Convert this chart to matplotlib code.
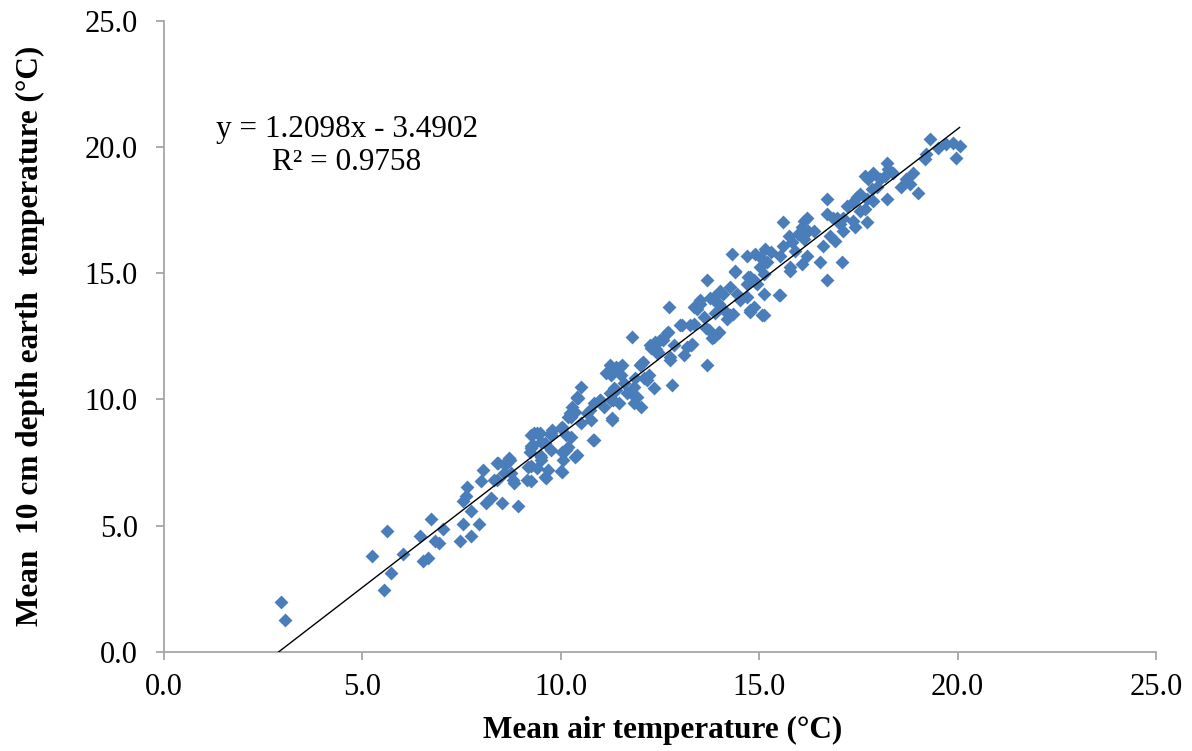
"""
Mean 10 cm depth earth temperature against mean air temperature, with linear fit.
"""

import matplotlib
matplotlib.use("Agg")
import matplotlib.pyplot as plt
import numpy as np

# points (air temp, earth temp), degrees C
air_temp = [
    2.95, 3.05, 5.24, 5.63, 5.54, 5.73, 6.02, 6.44, 6.73, 6.52, 6.65, 7.03, 6.82, 6.94,
    7.45, 7.74, 7.53, 7.93, 7.74, 7.53, 7.64, 7.61, 8.03, 7.99, 8.12, 8.24, 8.53, 8.91,
    8.41, 8.70, 8.58, 8.83, 8.32, 9.25, 9.62, 10.00, 9.41, 9.25, 9.50, 9.75, 10.04, 10.13,
    10.42, 10.25, 10.50, 10.42, 10.84, 10.75,
    8.66, 8.74, 9.33, 9.25, 9.50, 9.75, 10.00, 10.17, 10.29, 10.42, 10.25, 9.25, 9.50,
    9.75, 10.67, 10.84, 10.50,
    11.30, 11.26, 11.38, 11.55, 11.51, 11.34, 11.26, 11.47, 11.00, 11.09, 11.68, 11.59,
    11.84, 11.80, 12.01, 12.09, 12.22, 12.34, 11.93, 12.01, 11.84, 12.26, 12.39, 12.51,
    12.43, 12.68, 12.72, 12.76, 12.81, 12.85, 13.06, 13.10, 13.18, 13.31, 13.35, 13.43,
    13.52, 13.68, 13.68, 13.60, 13.73, 13.85, 13.98, 13.85, 13.98, 14.10, 14.19, 14.27,
    14.35, 14.40, 14.52, 14.69, 14.73, 14.86, 14.94, 14.86, 15.11, 15.11, 15.49, 15.03,
    15.78,
    19.97, 20.05, 19.88, 19.71, 19.51, 19.30, 19.21, 19.17, 19.00, 18.88, 18.71, 18.58,
    18.79, 18.21, 18.25, 18.17, 18.21, 18.37, 18.04, 17.96, 17.87, 17.75, 17.66, 17.83,
    17.87, 17.71, 17.71, 17.54, 17.46, 17.37, 17.54, 17.37, 17.66, 17.41, 17.20, 17.12,
    17.04, 17.12, 16.95, 16.70, 16.70, 16.87, 16.91, 16.78, 16.62, 17.08, 16.70, 16.53,
    16.37, 16.20, 16.12, 16.24, 16.07, 15.99, 16.12, 16.20, 16.07, 15.90, 15.82, 15.61,
    15.74, 15.61, 15.78, 15.53, 15.53, 15.30, 15.15, 15.03, 15.19, 15.11, 14.90, 14.69,
    14.31, 14.77, 14.69, 14.40, 14.02, 13.52, 13.35, 13.85, 14.10, 14.44, 14.77, 15.06,
    13.00, 13.25, 12.70, 12.37, 12.58, 12.28, 12.45, 12.75, 13.29, 13.67, 13.96, 13.80,
    11.99, 12.07, 11.23, 11.49, 11.15, 11.86, 12.16, 11.40, 11.78, 11.32, 13.75, 14.26,
    14.76, 13.88,
    10.44, 10.23, 10.35, 10.73, 10.98, 11.28, 11.23, 10.02, 9.77, 9.47, 9.26, 10.14,
    10.81, 9.30, 9.60, 9.22, 9.47, 10.02, 10.18, 10.35, 10.06, 8.72, 8.38, 8.59,
    9.18, 9.39, 9.68, 10.02, 8.38, 8.80, 9.14, 9.60,
]
earth_temp = [
    1.98, 1.27, 3.82, 4.81, 2.46, 3.12, 3.90, 4.59, 5.28, 3.60, 3.73, 4.88, 4.39, 4.30,
    4.39, 4.59, 5.05, 5.07, 5.57, 5.97, 6.53, 6.16, 7.22, 6.76, 5.90, 6.10, 5.90, 5.77,
    7.48, 7.68, 7.09, 6.69, 6.82, 6.76, 6.89, 7.15, 8.66, 8.07, 7.74, 8.60, 8.86, 8.00,
    7.81, 9.32, 10.50, 10.04, 8.40, 9.19,
    7.61, 7.09, 8.66, 8.14, 8.33, 8.66, 8.86, 9.32, 9.71, 10.11, 8.53, 7.35, 7.61,
    8.00, 9.45, 9.85, 9.06,
    9.19, 10.96, 11.29, 11.36, 10.96, 10.44, 9.98, 9.85, 9.98, 9.71, 10.24, 10.63,
    10.50, 12.47, 11.42, 10.83, 10.96, 10.44, 10.11, 9.71, 9.85, 12.15, 12.01, 12.34,
    11.82, 12.61, 13.66, 11.55, 10.57, 12.15, 12.93, 11.75, 12.08, 12.21, 13.00, 13.59,
    13.79, 11.36, 14.71, 13.26, 12.74, 12.47, 12.67, 14.05, 13.79, 14.18, 13.20, 14.44,
    13.39, 15.04, 13.92, 14.05, 14.84, 14.71, 14.58, 13.66, 13.33, 14.18, 14.12, 15.23,
    15.10,
    19.57, 20.03, 20.16, 20.10, 19.97, 20.30, 19.70, 19.50, 18.19, 18.98, 18.72, 18.39,
    18.52, 19.37, 19.11, 18.85, 17.93, 18.96, 18.72, 18.39, 18.96, 18.72, 18.85, 18.32,
    17.86, 17.93, 17.01, 18.13, 18.00, 17.80, 17.47, 17.07, 17.54, 16.81, 17.67, 17.20,
    16.94, 16.68, 17.20, 17.93, 17.34, 17.20, 16.29, 16.48, 16.09, 15.43, 14.71, 15.43,
    16.68, 17.20, 17.07, 16.68, 16.81, 16.55, 16.35, 15.69, 15.37, 15.89, 16.22, 17.01,
    16.48, 16.09, 15.23, 15.69, 14.12, 15.82, 15.95, 15.63, 15.43, 14.97, 15.76, 15.69,
    15.76, 14.84, 14.58, 15.10, 14.31, 13.92, 13.66, 13.92, 13.59, 14.18, 13.46, 13.33,
    12.95, 12.95, 12.68, 12.28, 12.35, 12.02, 11.89, 11.69, 12.15, 12.81, 12.62, 12.42,
    11.36, 11.49, 11.36, 11.29, 11.03, 10.83, 10.77, 10.37, 10.24, 9.98, 14.00, 13.34,
    13.54, 13.41,
    10.04, 9.45, 9.51, 9.58, 9.98, 9.25, 10.24, 8.92, 8.79, 8.66, 8.59, 8.59,
    8.39, 8.19, 8.26, 7.93, 7.80, 7.93, 8.13, 7.73, 7.60, 7.60, 7.47, 7.40,
    7.33, 7.27, 7.20, 7.14, 6.81, 6.81, 6.81, 6.94,
]

slope, intercept = 1.2098, -3.4902
r_squared = 0.9758
axis_ticks = [0.0, 5.0, 10.0, 15.0, 20.0, 25.0]

plt.rcParams['font.family'] = ['Liberation Serif', 'DejaVu Serif']

fig = plt.figure(figsize=(11.92, 7.51), dpi=100)
ax = fig.add_axes([0.1376, 0.1318, 0.8322, 0.8409])

ax.scatter(air_temp, earth_temp, marker='D', s=50, color='#4A7EBB', linewidths=0, zorder=3)

# trend line from where it crosses y=0 to the largest x
x0 = -intercept / slope
x1 = max(air_temp)
fit_x = np.array([x0, x1])
ax.plot(fit_x, slope * fit_x + intercept, color='black', lw=1.0, zorder=4)

ax.set_xlim(0, 25)
ax.set_ylim(0, 25)
ax.set_xticks(axis_ticks)
ax.set_yticks(axis_ticks)
ax.set_xticklabels([f'{t:.1f}' for t in axis_ticks])
ax.set_yticklabels([f'{t:.1f}' for t in axis_ticks])

for side in ['top', 'right']:
    ax.spines[side].set_visible(False)
for side in ['left', 'bottom']:
    ax.spines[side].set_color('#a6a6a6')
    ax.spines[side].set_linewidth(1.3)
ax.tick_params(axis='both', direction='out', length=6, width=1.3, color='#a6a6a6',
               labelsize=22, labelcolor='black')
ax.tick_params(axis='y', pad=13)
ax.tick_params(axis='x', pad=9)

fig.text(347 / 1192, 1 - 130 / 751, f'y = {slope:.4f}x - {abs(intercept):.4f}',
         fontsize=22.5, ha='center', va='center')
fig.text(347 / 1192, 1 - 163 / 751, f'R² = {r_squared:.4f}',
         fontsize=22.5, ha='center', va='center')

fig.text(663 / 1192, 1 - 730 / 751, 'Mean air temperature (°C)',
         fontsize=22.5, fontweight='bold', ha='center', va='center')
fig.text(30 / 1192, 1 - 336 / 751, 'Mean  10 cm depth earth  temperature (°C)',
         fontsize=22.5, fontweight='bold', ha='center', va='center', rotation=90)

fig.savefig('out.png', dpi=100)
